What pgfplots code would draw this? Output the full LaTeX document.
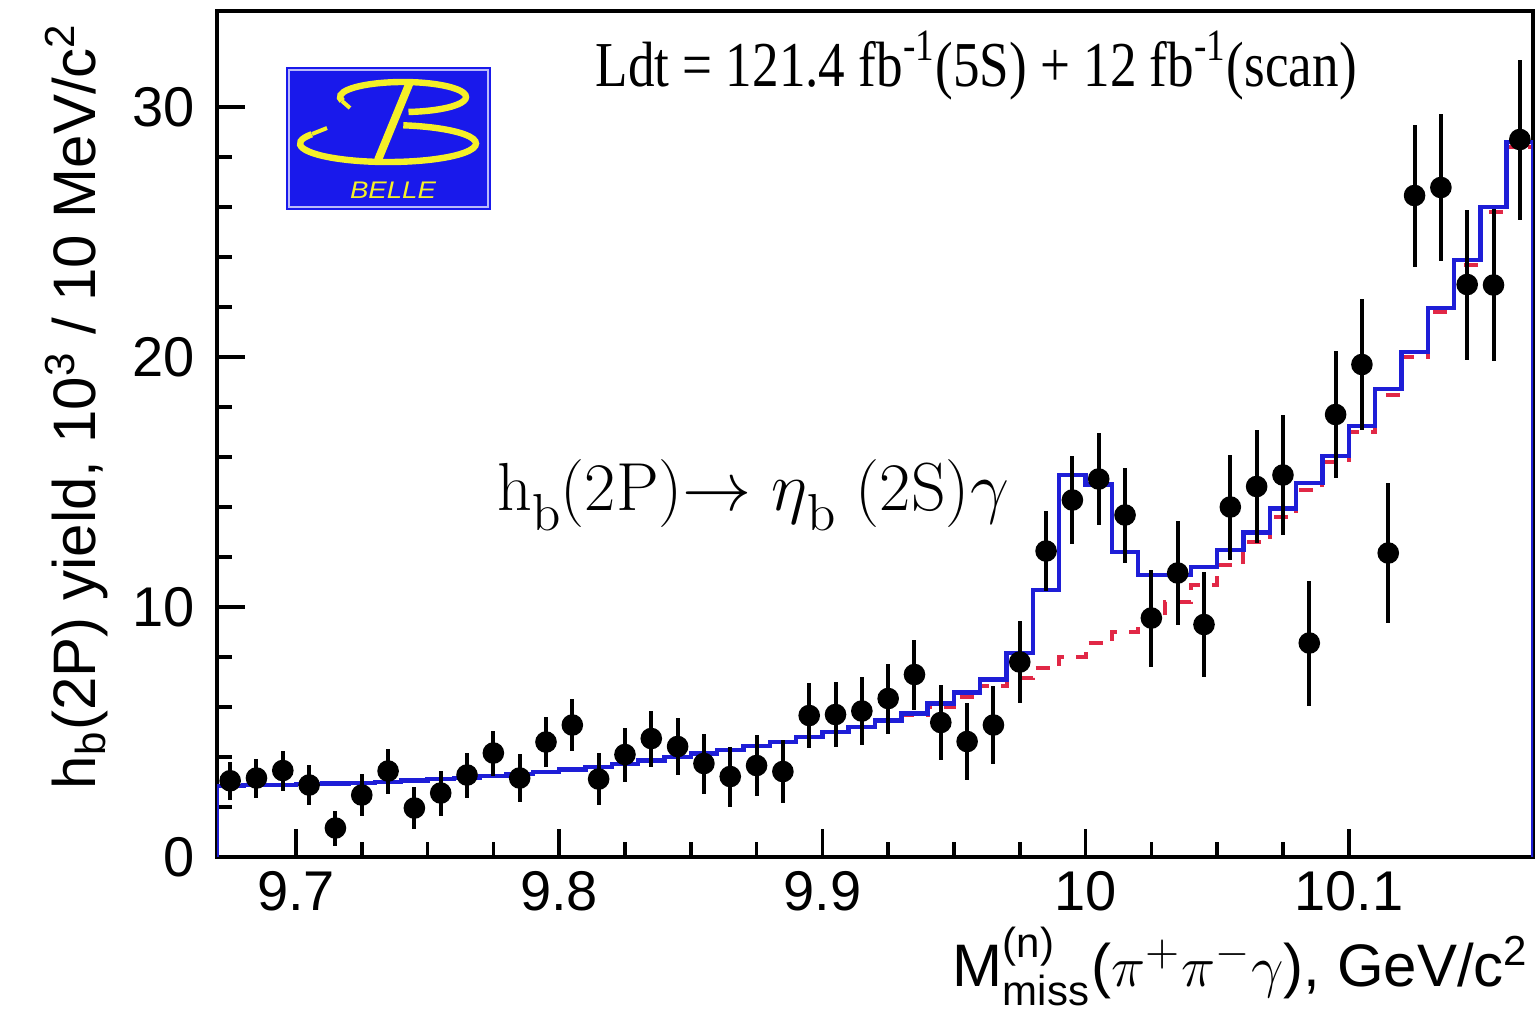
\documentclass[border=0pt]{standalone}
\usepackage{fontspec}
\usepackage{amsmath}
\usepackage{graphicx}
\usepackage{pgfplots}
\usepackage{pgfplotstable}
\pgfplotsset{compat=1.18}

\newfontfamily\helv{Liberation Sans}
\newfontfamily\tnr{Liberation Serif}

\definecolor{fitblue}{RGB}{30,30,215}
\definecolor{bkgred}{RGB}{225,40,70}
\definecolor{belleblue}{RGB}{25,25,235}
\definecolor{belleyellow}{RGB}{245,240,40}

% measured yield per 10 MeV bin (bin centre, value, error)
\pgfplotstableread{
x y e
9.675 3.05 0.75
9.685 3.16 0.78
9.695 3.46 0.80
9.705 2.88 0.80
9.715 1.16 0.70
9.725 2.48 0.85
9.735 3.44 0.90
9.745 1.96 0.85
9.755 2.56 0.90
9.765 3.28 0.90
9.775 4.16 0.90
9.785 3.16 0.95
9.795 4.60 1.00
9.805 5.28 1.05
9.815 3.12 1.05
9.825 4.10 1.08
9.835 4.74 1.12
9.845 4.42 1.13
9.855 3.74 1.20
9.865 3.22 1.20
9.875 3.66 1.23
9.885 3.42 1.25
9.895 5.66 1.30
9.905 5.70 1.30
9.915 5.84 1.35
9.925 6.34 1.40
9.935 7.30 1.40
9.945 5.38 1.50
9.955 4.62 1.53
9.965 5.28 1.57
9.975 7.80 1.65
9.985 12.24 1.60
9.995 14.28 1.77
10.005 15.12 1.84
10.015 13.68 1.90
10.025 9.56 1.94
10.035 11.36 2.07
10.045 9.30 2.10
10.055 14.00 2.10
10.065 14.82 2.26
10.075 15.28 2.40
10.085 8.56 2.50
10.095 17.70 2.55
10.105 19.70 2.63
10.115 12.16 2.80
10.125 26.46 2.84
10.135 26.78 2.93
10.145 22.90 3.00
10.155 22.88 3.05
10.165 28.70 3.20
}\datatab

% total fit, one value per bin (left edge)
\pgfplotstableread{
x y
9.67 0
9.67 2.85
9.68 2.87
9.69 2.89
9.70 2.91
9.71 2.94
9.72 2.97
9.73 3.01
9.74 3.06
9.75 3.11
9.76 3.17
9.77 3.24
9.78 3.32
9.79 3.41
9.80 3.50
9.81 3.60
9.82 3.72
9.83 3.86
9.84 4.00
9.85 4.14
9.86 4.28
9.87 4.44
9.88 4.60
9.89 4.80
9.90 5.00
9.91 5.20
9.92 5.46
9.93 5.74
9.94 6.14
9.95 6.58
9.96 7.10
9.97 8.16
9.98 10.68
9.99 15.28
10.00 14.90
10.01 12.20
10.02 11.28
10.03 11.28
10.04 11.60
10.05 12.28
10.06 12.98
10.07 13.94
10.08 14.96
10.09 16.04
10.10 17.24
10.11 18.72
10.12 20.20
10.13 21.96
10.14 23.88
10.15 26.00
10.16 28.60
10.17 28.60
10.17 0
}\fittab

% background component of the fit
\pgfplotstableread{
x y
9.67 2.85
9.68 2.87
9.69 2.89
9.70 2.91
9.71 2.94
9.72 2.97
9.73 3.01
9.74 3.06
9.75 3.11
9.76 3.17
9.77 3.24
9.78 3.32
9.79 3.41
9.80 3.50
9.81 3.60
9.82 3.72
9.83 3.86
9.84 4.00
9.85 4.14
9.86 4.28
9.87 4.44
9.88 4.60
9.89 4.80
9.90 5.00
9.91 5.20
9.92 5.44
9.93 5.70
9.94 6.00
9.95 6.40
9.96 6.85
9.97 7.15
9.98 7.55
9.99 8.00
10.00 8.55
10.01 9.00
10.02 9.50
10.03 10.20
10.04 10.90
10.05 11.70
10.06 12.60
10.07 13.60
10.08 14.70
10.09 15.80
10.10 17.00
10.11 18.50
10.12 20.00
10.13 21.80
10.14 23.70
10.15 25.80
10.16 28.40
10.17 28.40
}\bkgtab

\begin{document}
\begin{tikzpicture}
\begin{axis}[
  scale only axis,
  width=329pt, height=211.5pt,
  xmin=9.67, xmax=10.17,
  ymin=0, ymax=33.84,
  xtick={9.7,9.8,9.9,10,10.1},
  minor x tick num=3,
  ytick={0,10,20,30},
  minor y tick num=4,
  tick align=inside,
  tick pos=left,
  major tick length=7pt,
  minor tick length=3.8pt,
  tick style={black, line width=0.9pt},
  axis line style={black, line width=1pt},
  ticklabel style={font=\helv\fontsize{14}{14}\selectfont},
  /pgf/number format/assume math mode=true,
  yticklabel style={xshift=-2pt},
]
  \addplot[const plot mark left, bkgred, line width=1pt,
           dash pattern=on 3.5pt off 3pt] table[x=x, y=y] {\bkgtab};
  \addplot[const plot mark left, fitblue, line width=1.1pt]
           table[x=x, y=y] {\fittab};
  \addplot[only marks, mark=*, mark size=2.5pt, black,
           error bars/.cd, y dir=both, y explicit, error mark=none,
           error bar style={black, line width=1pt}]
           table[x=x, y=y, y error=e] {\datatab};
\end{axis}

% annotations, in pixel units measured from the lower left corner
\begin{scope}[shift={(-54.25pt,-38.25pt)}, x=0.25pt, y=0.25pt]
  % Belle logo
  \fill[belleblue] (286,800) rectangle (491,943);
  \draw[white!70!belleblue, line width=0.3pt] (289,803) rectangle (488,940);
  \draw[belleyellow, line width=1.6pt]
       (403,913) ++(195:63 and 15) arc[start angle=195, end angle=-85, x radius=63, y radius=15];
  \draw[belleyellow, line width=1.6pt]
       (388,866.5) ++(150:88 and 18.5) arc[start angle=150, end angle=440, x radius=88, y radius=18.5];
  \draw[belleyellow, line width=2pt] (410,928) -- (378,850);
  \draw[belleyellow, line width=1pt] (342,909) -- (350,902);
  \draw[belleyellow, line width=1pt] (312,876) -- (327,882);
  \node[belleyellow, xscale=1.15, inner sep=0pt] at (393,820)
       {\helv\itshape\fontsize{6}{6}\selectfont BELLE};

  % luminosity
  \node[anchor=base west, inner sep=0pt, xscale=0.83] at (595,924)
       {\tnr\fontsize{16}{16}\selectfont Ldt = 121.4 fb\textsuperscript{-1}(5S) + 12 fb\textsuperscript{-1}(scan)};

  % transition
  \node[anchor=base west, inner sep=0pt] at (497,500)
       {\fontsize{17}{17}\selectfont h\raisebox{-0.3em}{\fontsize{13}{13}\selectfont b}(2P)$\rightarrow\eta$\raisebox{-0.3em}{\fontsize{13}{13}\selectfont b} (2S)$\gamma$};

  % axis titles
  \node[rotate=90, anchor=base west, inner sep=0pt] at (95,220)
       {\helv\fontsize{15}{15}\selectfont h$_{\text{b}}$(2P) yield, 10$^{\text{3}}$ / 10 MeV/c$^{\text{2}}$};
  \node[anchor=base east, inner sep=0pt] at (1530,24)
       {\helv\fontsize{15}{15}\selectfont M$^{\text{(n)}}_{\text{miss}}$($\pi^{+}\pi^{-}\gamma$), GeV/c$^{\text{2}}$};
\end{scope}

\pgfresetboundingbox
\path[use as bounding box] (-54.25pt,-38.25pt) rectangle (330pt,214.25pt);
\end{tikzpicture}
\end{document}
